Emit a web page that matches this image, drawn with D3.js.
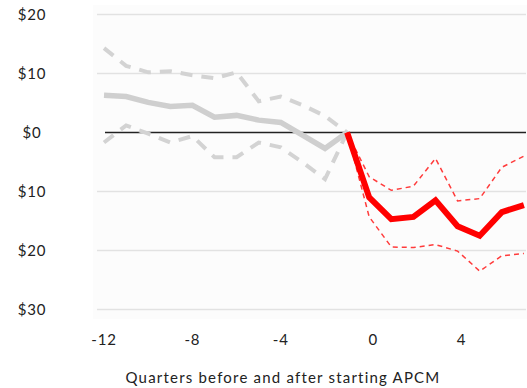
<!DOCTYPE html>
<html lang="en">
<head>
    <meta charset="utf-8">
    <title>APCM</title>
    <style>
        html, body {margin: 0;padding: 0;background: #fff;}
        svg {display: block;font-family: Lato, "Open Sans", sans-serif;}
        .tick-label {font-size: 15px;fill: #222;letter-spacing: 0.8px;}
        .axis-title {font-size: 15px;fill: #222;letter-spacing: 1.2px;}
    </style>
</head>
<body>
<div id="chart"></div>
<script src="https://cdnjs.cloudflare.com/ajax/libs/d3/7.8.5/d3.min.js"></script>
<script>
  // quarters relative to starting APCM
  var beforeQuarters = [-12, -11, -10, -9, -8, -7, -6, -5, -4, -3, -2, -1];
  var afterQuarters = [-1, 0, 1, 2, 3, 4, 5, 6, 7];

  // gray: before
  var beforeMean = [6.3, 6.1, 5.1, 4.4, 4.6, 2.6, 2.9, 2.1, 1.7, -0.5, -2.7, 0];
  var beforeUpper = [14.3, 11.3, 10.2, 10.4, 9.7, 9.2, 10.2, 5.3, 6.1, 4.6, 2.8, 0];
  var beforeLower = [-1.7, 1.2, -0.2, -1.7, -0.6, -4.2, -4.2, -1.7, -2.5, -5.1, -7.9, 0];

  // red: after
  var afterMean = [0, -11.0, -14.7, -14.3, -11.5, -15.9, -17.5, -13.5, -12.3];
  var afterUpper = [0, -7.5, -9.8, -9.1, -4.4, -11.6, -11.2, -5.9, -4.0];
  var afterLower = [0, -14.3, -19.4, -19.5, -19.0, -20.1, -23.5, -20.9, -20.5];

  var yTicks = [20, 10, 0, -10, -20, -30];
  var xTicks = [-12, -8, -4, 0, 4];

  var width = 527, height = 388;

  var svg = d3.select('#chart').append('svg')
    .attr('width', width)
    .attr('height', height);

  var x = d3.scaleLinear().domain([-12, 4]).range([104, 457.6]);
  var y = d3.scaleLinear().domain([20, -30]).range([14.5, 309.5]);

  // faint plot background
  svg.append('rect')
    .attr('x', 93).attr('y', 5)
    .attr('width', width - 93).attr('height', 314)
    .attr('fill', '#fcfcfc');

  // gridlines
  svg.append('g').selectAll('line')
    .data(yTicks.filter(function (d) { return d !== 0; }))
    .join('line')
    .attr('x1', 97).attr('x2', 526)
    .attr('y1', function (d) { return y(d); })
    .attr('y2', function (d) { return y(d); })
    .attr('stroke', '#e2e2e2')
    .attr('stroke-width', 1.5);

  // zero line
  svg.append('line')
    .attr('x1', 105).attr('x2', 526)
    .attr('y1', y(0)).attr('y2', y(0))
    .attr('stroke', '#222')
    .attr('stroke-width', 1.5);

  // y labels (no minus sign in the original)
  svg.append('g').selectAll('text')
    .data(yTicks)
    .join('text')
    .attr('class', 'tick-label')
    .attr('x', 32)
    .attr('y', function (d) { return y(d) + 5; })
    .attr('text-anchor', 'middle')
    .text(function (d) { return '$' + Math.abs(d); });

  // x labels
  svg.append('g').selectAll('text')
    .data(xTicks)
    .join('text')
    .attr('class', 'tick-label')
    .attr('x', function (d) { return x(d) + (d < 0 ? 0 : 4); })
    .attr('y', 345)
    .attr('text-anchor', 'middle')
    .text(function (d) { return d; });

  svg.append('text')
    .attr('class', 'axis-title')
    .attr('x', 283)
    .attr('y', 383)
    .attr('text-anchor', 'middle')
    .text('Quarters before and after starting APCM');

  svg.append('clipPath').attr('id', 'plot-clip')
    .append('rect').attr('x', 0).attr('y', 0).attr('width', width).attr('height', 330);

  var plot = svg.append('g').attr('clip-path', 'url(#plot-clip)');

  function drawLine(qs, vals, color, w, dash) {
    var line = d3.line()
      .x(function (d, i) { return x(qs[i]); })
      .y(function (d) { return y(d); });
    plot.append('path')
      .datum(vals)
      .attr('d', line)
      .attr('fill', 'none')
      .attr('stroke', color)
      .attr('stroke-width', w)
      .attr('stroke-linejoin', 'miter')
      .attr('stroke-dasharray', dash || null);
  }

  drawLine(beforeQuarters, beforeUpper, '#d3d3d3', 4, '12,9');
  drawLine(beforeQuarters, beforeLower, '#d3d3d3', 4, '12,9');
  drawLine(beforeQuarters, beforeMean, '#cfcfcf', 5.5);

  drawLine(afterQuarters, afterUpper, '#ff3b3b', 1.5, '5,4');
  drawLine(afterQuarters, afterLower, '#ff3b3b', 1.5, '5,4');
  drawLine(afterQuarters, afterMean, '#ff0000', 6);
</script>
</body>
</html>
